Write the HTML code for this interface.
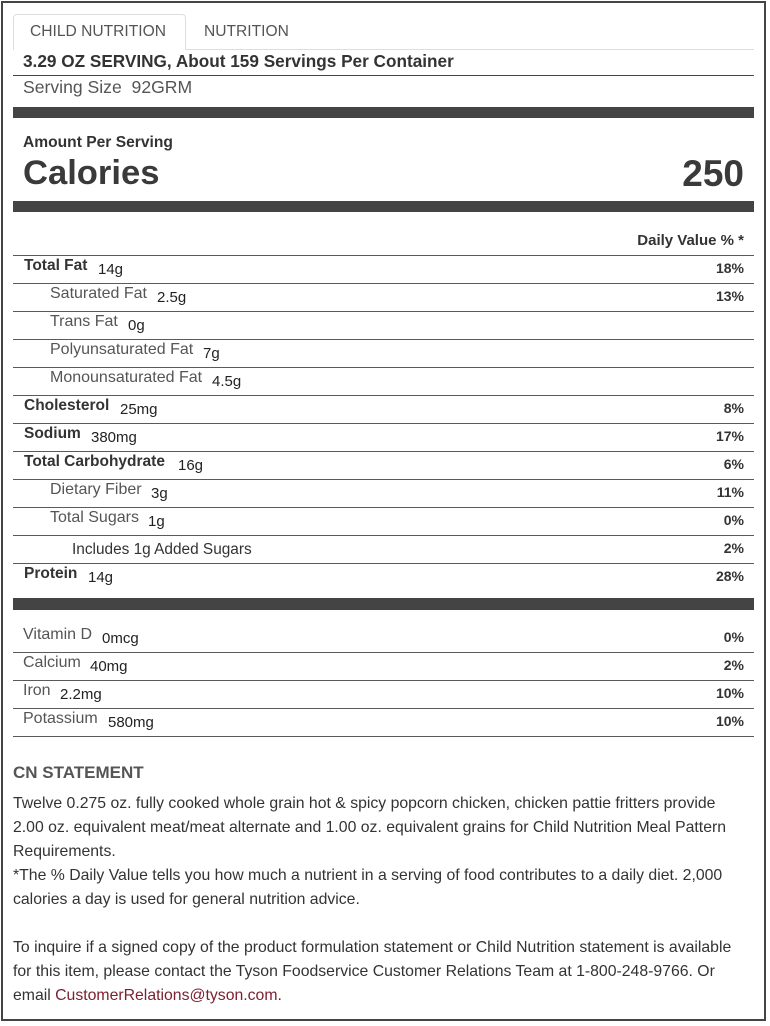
<!DOCTYPE html>
<html><head><meta charset="utf-8">
<style>
*{margin:0;padding:0;box-sizing:border-box;}
html,body{width:770px;height:1026px;background:#fff;overflow:hidden;}
body{position:relative;font-family:"Liberation Sans",Arial,sans-serif;color:#333;}
.abs{position:absolute;white-space:nowrap;line-height:1;}
.frame{position:absolute;left:1px;top:1px;width:765px;height:1020px;border:2px solid #444;}
.tab{position:absolute;left:13px;top:14px;width:173px;height:36px;border:1px solid #ddd;border-bottom:none;border-radius:4px 4px 0 0;background:#fff;}
.tabline{position:absolute;left:185px;top:49px;width:569px;height:1px;background:#ddd;}
.bar{position:absolute;left:13px;width:741px;height:11px;background:#444;}
.hl{position:absolute;left:13px;width:741px;height:1px;background:#555;}
.r{position:absolute;left:13px;width:741px;height:28px;border-top:1px solid #5a5a5a;}
.r .l{position:absolute;top:2px;left:11px;font-size:16px;line-height:16px;color:#555;white-space:nowrap;}
.r .l.b{font-weight:bold;font-size:15.5px;color:#333;}
.r .l.i{left:37px;}
.r .l.v{left:10px;}
.r .a{position:absolute;top:6px;font-size:15px;line-height:15px;color:#222;white-space:nowrap;}
.r .p{position:absolute;top:5px;right:10px;font-size:14px;line-height:14px;font-weight:bold;color:#333;}
.txt{position:absolute;left:13px;font-size:15.8px;line-height:24px;color:#333;white-space:nowrap;}
</style></head><body>
<div class="frame"></div>

<div class="tab"></div>
<div class="tabline"></div>
<div class="abs" style="left:30px;top:24px;font-size:15.6px;color:#555;">CHILD NUTRITION</div>
<div class="abs" style="left:204px;top:24px;font-size:15.6px;color:#555;">NUTRITION</div>

<div class="abs" style="left:23px;top:53px;font-size:17.2px;font-weight:bold;color:#333;">3.29 OZ SERVING, About 159 Servings Per Container</div>
<div class="hl" style="top:75px;background:#444;"></div>
<div class="abs" style="left:23px;top:79px;font-size:17.6px;color:#555;">Serving Size&nbsp; 92GRM</div>

<div class="bar" style="top:107px;"></div>

<div class="abs" style="left:23px;top:135px;font-size:15.6px;font-weight:bold;color:#333;">Amount Per Serving</div>
<div class="abs" style="left:23px;top:156px;font-size:34.6px;font-weight:bold;color:#3a3a3a;">Calories</div>
<div class="abs" style="right:26px;top:155px;font-size:37px;font-weight:bold;color:#3a3a3a;">250</div>

<div class="bar" style="top:201px;"></div>

<div class="abs" style="right:26px;top:233px;font-size:15px;font-weight:bold;color:#333;">Daily Value % *</div>

<div class="r" style="top:255px;"><span class="l b">Total Fat</span><span class="a" style="left:85px;">14g</span><span class="p">18%</span></div>
<div class="r" style="top:283px;"><span class="l i">Saturated Fat</span><span class="a" style="left:144px;">2.5g</span><span class="p">13%</span></div>
<div class="r" style="top:311px;"><span class="l i">Trans Fat</span><span class="a" style="left:115px;">0g</span></div>
<div class="r" style="top:339px;"><span class="l i">Polyunsaturated Fat</span><span class="a" style="left:190px;">7g</span></div>
<div class="r" style="top:367px;"><span class="l i">Monounsaturated Fat</span><span class="a" style="left:199px;">4.5g</span></div>
<div class="r" style="top:395px;"><span class="l b">Cholesterol</span><span class="a" style="left:107px;">25mg</span><span class="p">8%</span></div>
<div class="r" style="top:423px;"><span class="l b">Sodium</span><span class="a" style="left:78px;">380mg</span><span class="p">17%</span></div>
<div class="r" style="top:451px;"><span class="l b">Total Carbohydrate</span><span class="a" style="left:165px;">16g</span><span class="p">6%</span></div>
<div class="r" style="top:479px;"><span class="l i">Dietary Fiber</span><span class="a" style="left:138px;">3g</span><span class="p">11%</span></div>
<div class="r" style="top:507px;"><span class="l i">Total Sugars</span><span class="a" style="left:135px;">1g</span><span class="p">0%</span></div>
<div class="r" style="top:535px;"><span class="abs" style="left:59px;top:6px;font-size:15.4px;color:#333;">Includes 1g Added Sugars</span><span class="p">2%</span></div>
<div class="r" style="top:563px;"><span class="l b">Protein</span><span class="a" style="left:75px;">14g</span><span class="p">28%</span></div>

<div class="bar" style="top:598px;height:12px;"></div>

<div class="r" style="top:624px;border-top-color:transparent;"><span class="l v">Vitamin D</span><span class="a" style="left:89px;">0mcg</span><span class="p">0%</span></div>
<div class="r" style="top:652px;"><span class="l v">Calcium</span><span class="a" style="left:77px;">40mg</span><span class="p">2%</span></div>
<div class="r" style="top:680px;"><span class="l v">Iron</span><span class="a" style="left:47px;">2.2mg</span><span class="p">10%</span></div>
<div class="r" style="top:708px;"><span class="l v">Potassium</span><span class="a" style="left:95px;">580mg</span><span class="p">10%</span></div>
<div class="hl" style="top:736px;background:#5a5a5a;"></div>

<div class="abs" style="left:13px;top:764px;font-size:17px;font-weight:bold;color:#555;">CN STATEMENT</div>

<div class="txt" style="top:792px;">Twelve 0.275 oz. fully cooked whole grain hot &amp; spicy popcorn chicken, chicken pattie fritters provide<br>2.00 oz. equivalent meat/meat alternate and 1.00 oz. equivalent grains for Child Nutrition Meal Pattern<br>Requirements.<br>*The % Daily Value tells you how much a nutrient in a serving of food contributes to a daily diet. 2,000<br>calories a day is used for general nutrition advice.</div>

<div class="txt" style="top:936px;">To inquire if a signed copy of the product formulation statement or Child Nutrition statement is available<br>for this item, please contact the Tyson Foodservice Customer Relations Team at 1-800-248-9766. Or<br>email <span style="color:#7a1f2e;">CustomerRelations@tyson.com</span>.</div>

</body></html>
